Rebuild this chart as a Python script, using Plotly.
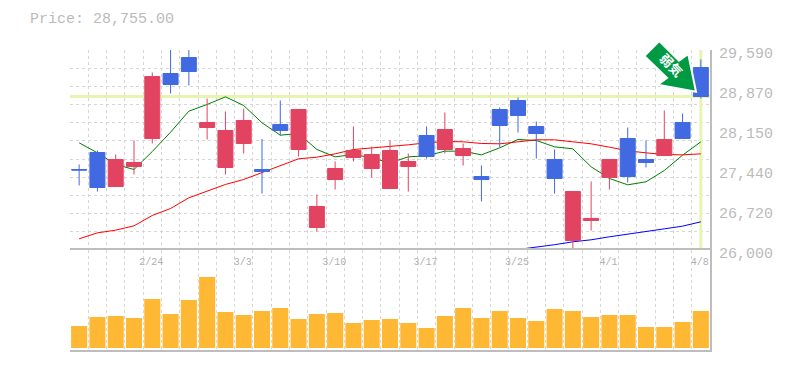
import plotly.graph_objects as go

price_now = 28755
opens  = [27445,27750,27140,27499,28001,29168,29455,28199,27481,27912,27445,28253,27804,26404,27266,27660,27463,27104,27499,28055,27804,27696,27319,28522,28684,28217,27625,26171,26530,27302,28002,27625,27696,28289,29276]
closes = [27435,27122,27625,27571,29114,28971,29204,28289,28145,28325,27409,28145,28522,26781,27463,27786,27714,27786,27589,27678,28163,27822,27266,28235,28414,28091,27284,27050,26566,27625,27319,27571,27984,28002,28755]
highs  = [27535,27786,27714,27966,29186,29900,29900,28720,28486,28540,27994,28684,28522,26996,27589,28217,27858,27966,27732,28217,28468,27912,27517,28558,28737,28307,27804,27050,27230,27625,28199,27966,28504,28450,29420]
lows   = [27158,27050,27140,27355,27912,28809,28953,27984,27355,27732,27014,28055,27678,26332,27086,27589,27301,27104,27050,27642,27732,27517,26871,27840,28109,27642,27014,25990,26350,27086,27212,27481,27696,28002,28720]
ma_short = [27924,27744,27535,27445,27768,28115,28492,28612,28749,28594,28283,28061,28091,27804,27672,27714,27655,27565,27672,27690,27774,27774,27708,27834,27984,27966,27852,27816,27493,27284,27170,27224,27427,27702,27942]
ma_mid = [26201,26308,26356,26434,26620,26745,26937,27056,27176,27266,27385,27505,27637,27666,27726,27804,27828,27852,27888,27924,27948,27942,27912,27906,27936,27978,27978,27942,27906,27846,27780,27744,27714,27708,27726]
ma_long = [None]*24 + [26010,26050,26095,26147,26183,26237,26278,26332,26380,26428,26506]
volumes = [22,31,32,30,49,34,48,71,36,33,37,40,29,34,35,25,28,29,25,20,32,40,30,37,30,27,39,37,31,33,33,21,21,26,37]
x_idx = list(range(35))
date_idx = [4,9,14,19,24,29,34]
date_labels = ["2/24","3/3","3/10","3/17","3/25","4/1","4/8"]
price_ticks = [26000,26720,27440,28150,28870,29590]
price_labels = ["26,000","26,720","27,440","28,150","28,870","29,590"]

MONO = "Liberation Mono"
GRID = "#d6d6d6"
AXIS = "#bdbdbd"
TXT = "#bbbbbb"
W, H = 785, 370
L, R, T, B = 70, 75, 50, 20
def px(x, y):
    return (x - L) / (W - L - R), 1 - (y - T) / (H - T - B)

fig = go.Figure()
# current price guides and moving averages sit behind the candles
fig.add_trace(go.Scatter(x=[-0.5, 34.5], y=[price_now, price_now], mode="lines", line=dict(color="#e6f5b0", width=3), xaxis="x", yaxis="y", hoverinfo="skip"))
fig.add_trace(go.Scatter(x=[34, 34], y=[26000, 29590], mode="lines", line=dict(color="#e6f5b0", width=3), xaxis="x", yaxis="y", hoverinfo="skip"))
for vals, col in [(ma_short, "#008000"), (ma_mid, "#ff0000"), (ma_long, "#0000ff")]:
    fig.add_trace(go.Scatter(x=x_idx, y=vals, mode="lines", line=dict(color=col, width=1), xaxis="x", yaxis="y"))
fig.add_trace(go.Candlestick(x=x_idx, open=opens, high=highs, low=lows, close=closes,
    increasing=dict(line=dict(color="#e24361", width=1), fillcolor="#e24361"),
    decreasing=dict(line=dict(color="#4169e1", width=1), fillcolor="#4169e1"),
    whiskerwidth=0, xaxis="x", yaxis="y3"))
fig.add_trace(go.Bar(x=x_idx, y=volumes, marker=dict(color="#ffb833", line=dict(width=0)), xaxis="x2", yaxis="y2"))

arrow = [(659.3,41),(644.3,56),(667,78),(657.7,84.7),(696,91.7),(688.3,54),(679,60.7)]
path = "M " + " L ".join(f"{px(a,b)[0]:.5f},{px(a,b)[1]:.5f}" for a, b in arrow) + " Z"

minor_x = dict(tick0=-0.5, dtick=1, showgrid=True, gridcolor=GRID, griddash="3px,3px", gridwidth=1, ticks="")
fig.update_layout(
    width=W, height=H, autosize=False, showlegend=False,
    margin=dict(l=L, r=R, t=T, b=B, autoexpand=False),
    paper_bgcolor="white", plot_bgcolor="white",
    bargap=0.12, boxgap=0.18, boxgroupgap=0,
    title=dict(text="Price: 28,755.00", x=30/W, xanchor="left", y=1-18/H, yanchor="middle",
               font=dict(family=MONO, size=15, color=TXT)),
    xaxis=dict(domain=[0,1], range=[-0.5,34.5], anchor="y", showticklabels=False, ticks="", showgrid=False,
               zeroline=False, rangeslider=dict(visible=False), minor=minor_x),
    xaxis2=dict(domain=[0,1], range=[-0.5,34.5], anchor="y2", matches="x", side="top", ticklabelposition="inside",
                tickmode="array", tickvals=date_idx, ticktext=date_labels, ticks="", showgrid=False, zeroline=False,
                tickfont=dict(family=MONO, size=10, color="#b0b0b0"), ticklabelstandoff=7, ticklabelshift=-1,
                showline=True, mirror=True, linecolor=AXIS, linewidth=2, minor=minor_x),
    yaxis=dict(domain=[1/3,1], range=[26000,29590], side="right", tickmode="array", tickvals=price_ticks, ticktext=price_labels,
               ticks="", showgrid=False, zeroline=False, showline=True, linecolor=AXIS, linewidth=2,
               tickfont=dict(family=MONO, size=15, color=TXT), ticklabelshift=3, ticklabelstandoff=4,
               minor=dict(tick0=26000, dtick=3590/11, showgrid=True, gridcolor=GRID, griddash="3px,3px", gridwidth=1, ticks="")),
    yaxis2=dict(domain=[0,1/3], range=[-2,98], side="right", showticklabels=False, ticks="", showgrid=False, zeroline=False,
                showline=True, linecolor=AXIS, linewidth=2),
    yaxis3=dict(domain=[1/3,1], range=[26000,29590], overlaying="y", side="right", visible=False),
    shapes=[dict(type="path", path=path, xref="paper", yref="paper", fillcolor="#009944", line=dict(color="white", width=2), layer="above",
                 label=dict(text="<b>弱気</b>", textangle=45, textposition="middle center", xanchor="center", yanchor="middle", padding=0,
                            font=dict(family="Noto Sans CJK JP", size=13, color="white")))],
)
fig.write_html("out.html", config={"displayModeBar": False}, post_script="document.body.style.margin='0';")
